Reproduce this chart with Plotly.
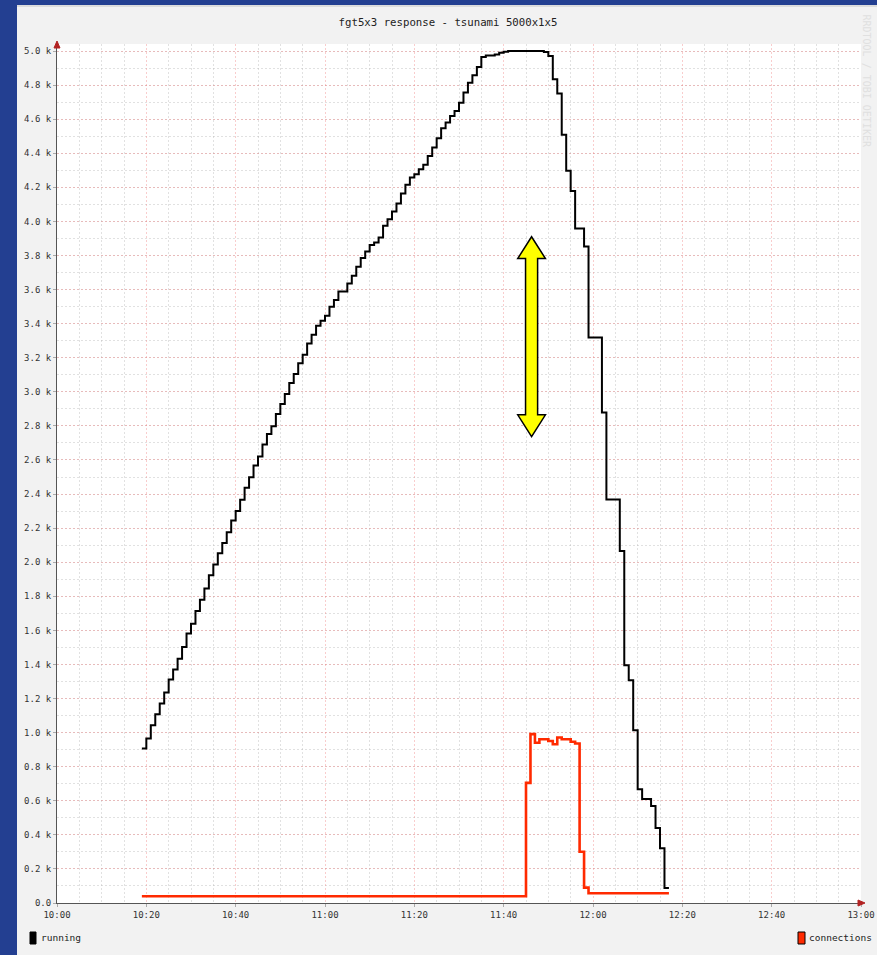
import pandas as pd
import plotly.graph_objects as go

# ---------------- data ----------------
DAY = "2013-01-01"
running_start = "10:19"
running_values = [
    907, 965, 1043, 1108, 1171, 1235, 1311, 1370, 1434, 1502,
    1581, 1639, 1713, 1780, 1845, 1923, 1987, 2053, 2112, 2176,
    2245, 2300, 2366, 2437, 2499, 2567, 2621, 2690, 2753, 2798,
    2870, 2929, 2987, 3052, 3105, 3167, 3218, 3284, 3335, 3388,
    3417, 3447, 3499, 3539, 3589, 3589, 3636, 3681, 3734, 3785,
    3824, 3861, 3876, 3905, 3974, 4013, 4058, 4105, 4164, 4215,
    4257, 4277, 4306, 4332, 4384, 4433, 4488, 4547, 4580, 4619,
    4648, 4697, 4756, 4814, 4857, 4906, 4965, 4974, 4974, 4980,
    4990, 4996, 5000, 5000, 5000, 5000, 5000, 5000, 5000, 5000,
    4994, 4971, 4834, 4750, 4508, 4297, 4179, 3958, 3958, 3853,
    3318, 3318, 3318, 2878, 2368, 2368, 2368, 2065, 1395, 1307,
    1014, 668, 610, 610, 569, 440, 322, 88, 88,
]

connections_times = ["10:19", "11:45", "11:46", "11:47", "11:48", "11:50", "11:51",
                     "11:52", "11:53", "11:55", "11:56", "11:57", "11:58", "11:59", "12:17"]
connections_values = [40, 705, 991, 940, 961, 951, 932, 971, 961, 946, 936, 301, 90, 57, 57]

y_tick_vals = [0, 200, 400, 600, 800, 1000, 1200, 1400, 1600, 1800, 2000, 2200, 2400,
               2600, 2800, 3000, 3200, 3400, 3600, 3800, 4000, 4200, 4400, 4600, 4800, 5000]
y_tick_text = ["0.0", "0.2 k", "0.4 k", "0.6 k", "0.8 k", "1.0 k", "1.2 k", "1.4 k", "1.6 k",
               "1.8 k", "2.0 k", "2.2 k", "2.4 k", "2.6 k", "2.8 k", "3.0 k", "3.2 k", "3.4 k",
               "3.6 k", "3.8 k", "4.0 k", "4.2 k", "4.4 k", "4.6 k", "4.8 k", "5.0 k"]

TITLE = "fgt5x3 response - tsunami 5000x1x5"

# highlight arrow (annotation decoration)
ARROW_CENTER = "11:46:15"
ARROW_TOP, ARROW_BOTTOM = 3910, 2737

# ---------------- geometry ----------------
W, H = 877, 955
ML, MR, MT, MB = 57, 16, 44, 52
PW, PH = W - ML - MR, H - MT - MB
BOTTOM_PX = H - MB


def px(xp):
    return (xp - ML) / PW


def py(yp):
    return (BOTTOM_PX - yp) / PH


FONT = "DejaVu Sans Mono"
RED = "#ff2a00"

running_x = pd.date_range(f"{DAY} {running_start}", periods=len(running_values), freq="min")
conn_x = [f"{DAY} {t}" for t in connections_times]

fig = go.Figure()
fig.add_trace(go.Scatter(x=conn_x, y=connections_values, mode="lines",
                         line=dict(color=RED, width=2.6, shape="hv"), name="connections"))
fig.add_trace(go.Scatter(x=running_x, y=running_values, mode="lines",
                         line=dict(color="#000000", width=2, shape="hv"), name="running"))

shapes = []
# blue border (left + top)
shapes.append(dict(type="rect", xref="paper", yref="paper", x0=px(0), x1=px(17), y0=py(H), y1=py(0),
                   fillcolor="#233f91", line=dict(width=0), layer="above"))
shapes.append(dict(type="rect", xref="paper", yref="paper", x0=px(0), x1=px(W), y0=py(5), y1=py(0),
                   fillcolor="#233f91", line=dict(width=0), layer="above"))
shapes.append(dict(type="rect", xref="paper", yref="paper", x0=px(17), x1=px(W), y0=py(7), y1=py(5),
                   fillcolor="#dcdcdc", line=dict(width=0), layer="above"))
# axis arrowheads
shapes.append(dict(type="path", xref="paper", yref="paper",
                   path=f"M{px(54)},{py(48)} L{px(60)},{py(48)} L{px(57)},{py(41)} Z",
                   fillcolor="#b22222", line=dict(color="#b22222", width=1)))
shapes.append(dict(type="path", xref="paper", yref="paper",
                   path=f"M{px(858)},{py(900)} L{px(858)},{py(906)} L{px(865)},{py(903)} Z",
                   fillcolor="#b22222", line=dict(color="#b22222", width=1)))
# legend swatches
shapes.append(dict(type="rect", xref="paper", yref="paper", x0=px(30), x1=px(36), y0=py(944), y1=py(932),
                   fillcolor="#000000", line=dict(color="#000000", width=1)))
shapes.append(dict(type="rect", xref="paper", yref="paper", x0=px(798), x1=px(805), y0=py(944), y1=py(932),
                   fillcolor=RED, line=dict(color="#000000", width=1)))

# yellow double arrow in data coordinates
c = pd.Timestamp(f"{DAY} {ARROW_CENTER}")
hw = pd.Timedelta(minutes=3.1)
sw = pd.Timedelta(minutes=1.35)
head = 128


def d(t):
    return t.strftime("%Y-%m-%d_%H:%M:%S")


pts = [
    (c, ARROW_TOP), (c + hw, ARROW_TOP - head), (c + sw, ARROW_TOP - head),
    (c + sw, ARROW_BOTTOM + head), (c + hw, ARROW_BOTTOM + head), (c, ARROW_BOTTOM),
    (c - hw, ARROW_BOTTOM + head), (c - sw, ARROW_BOTTOM + head), (c - sw, ARROW_TOP - head),
    (c - hw, ARROW_TOP - head),
]
path = "M" + " L".join(f"{d(t)},{v}" for t, v in pts) + " Z"
shapes.append(dict(type="path", xref="x", yref="y", path=path, fillcolor="#ffff00",
                   line=dict(color="#000000", width=1.5), layer="above"))

annotations = [
    dict(text="running", xref="paper", yref="paper", x=px(39), y=py(938), xanchor="left",
         yanchor="middle", showarrow=False, font=dict(family=FONT, size=9.5, color="#222")),
    dict(text="connections", xref="paper", yref="paper", x=px(807), y=py(938), xanchor="left",
         yanchor="middle", showarrow=False, font=dict(family=FONT, size=9.5, color="#222")),
    dict(text="RRDTOOL / TOBI OETIKER", xref="paper", yref="paper", x=px(866), y=py(12),
         xanchor="center", yanchor="top", textangle=90, showarrow=False,
         font=dict(family=FONT, size=10, color="#e0e0e0")),
]

fig.update_layout(
    width=W, height=H,
    margin=dict(l=ML, r=MR, t=MT, b=MB, pad=0, autoexpand=False),
    paper_bgcolor="#f2f2f2", plot_bgcolor="#ffffff",
    showlegend=False,
    title=dict(text=TITLE, x=448 / W, xref="container", xanchor="center",
               y=1 - 22 / H, yref="container", yanchor="middle",
               font=dict(family=FONT, size=10.7, color="#222")),
    shapes=shapes, annotations=annotations,
    font=dict(family=FONT, size=9, color="#333"),
)

MAJOR_GRID = "rgba(240,130,130,0.4)"
MINOR_GRID = "rgba(180,180,180,0.4)"
DASH = "2px,2px"

fig.update_xaxes(
    type="date", range=[f"{DAY} 10:00", f"{DAY} 13:00"],
    dtick=20 * 60 * 1000, tick0=f"{DAY} 10:00", tickformat="%H:%M",
    showgrid=True, gridcolor=MAJOR_GRID, griddash=DASH, gridwidth=1,
    minor=dict(dtick=5 * 60 * 1000, showgrid=True, gridcolor=MINOR_GRID,
               griddash=DASH, ticks=""),
    showline=True, linecolor="#555555", linewidth=1,
    ticks="outside", ticklen=3, tickcolor="#aaaaaa",
    tickfont=dict(family=FONT, size=9, color="#333"),
    zeroline=False, fixedrange=True, automargin=False,
)
fig.update_yaxes(
    range=[0, 5000 * PH / 852],
    tickvals=y_tick_vals, ticktext=y_tick_text,
    showgrid=True, gridcolor=MAJOR_GRID, griddash=DASH, gridwidth=1,
    minor=dict(dtick=100, tick0=0, showgrid=True, gridcolor=MINOR_GRID,
               griddash=DASH, ticks=""),
    showline=True, linecolor="#555555", linewidth=1,
    ticks="outside", ticklen=3, tickcolor="#aaaaaa",
    tickfont=dict(family=FONT, size=9, color="#333"),
    zeroline=False, fixedrange=True, automargin=False,
)

fig.write_html("out.html",
               config={"displayModeBar": False},
               post_script="document.body.style.margin='0px';document.body.style.overflow='hidden';")
